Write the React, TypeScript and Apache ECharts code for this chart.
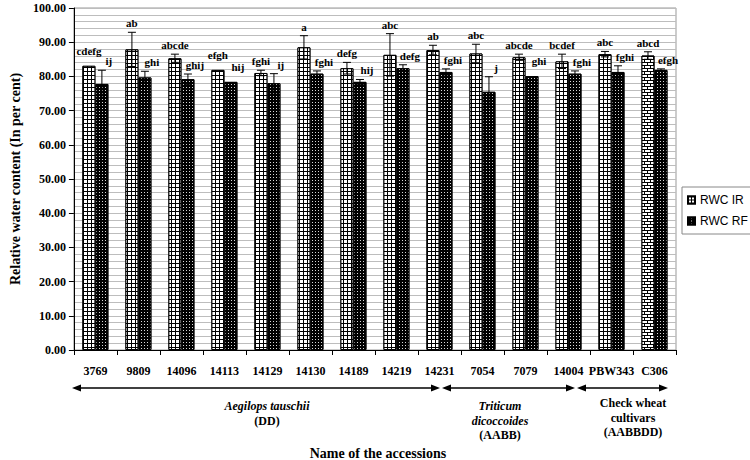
import React, { useEffect, useRef } from "react";
import * as echarts from "echarts";

const categories = ["3769", "9809", "14096", "14113", "14129", "14130", "14189", "14219", "14231", "7054", "7079", "14004", "PBW343", "C306"];
const rwcIR = [83.1, 87.9, 85.3, 81.9, 81.0, 88.5, 82.4, 86.3, 87.7, 86.7, 85.6, 84.4, 86.5, 86.1];
const rwcIRErr = [0.2, 5.0, 1.2, 0.2, 0.8, 3.4, 1.7, 6.2, 1.4, 2.7, 0.9, 2.1, 0.8, 1.1];
const rwcRF = [77.8, 79.7, 79.2, 78.4, 78.0, 80.8, 78.4, 82.4, 81.3, 75.5, 80.1, 80.8, 81.3, 81.9];
const rwcRFErr = [4.0, 1.8, 1.5, 0.2, 2.8, 0.8, 0.7, 1.0, 0.9, 4.4, 0.2, 0.8, 1.8, 0.3];
const lettersIR = ["cdefg", "ab", "abcde", "efgh", "fghi", "a", "defg", "abc", "ab", "abc", "abcde", "bcdef", "abc", "abcd"];
const lettersRF = ["ij", "ghi", "ghij", "hij", "ij", "fghi", "hij", "defg", "fghi", "j", "ghi", "fghi", "fghi", "efgh"];
const yTicks = { min: 0, max: 100, interval: 10 };

const SERIF = "'Liberation Serif', 'Times New Roman', serif";
const BAR_W = 13;

const gridDecal = {
  symbol: "rect",
  symbolSize: 1,
  color: "#ffffff",
  dashArrayX: [3, 1],
  dashArrayY: [3, 1],
  rotation: 0,
};
const dotDecal = {
  symbol: "rect",
  symbolSize: 1,
  color: "#d8d8d8",
  dashArrayX: [1, 2],
  dashArrayY: [1, 2],
  rotation: 0,
};
const brickDecal = {
  symbol: "rect",
  symbolSize: 1,
  color: "#ffffff",
  dashArrayX: [[5, 1], [2, 1, 3, 0]],
  dashArrayY: [2, 1],
  rotation: 0,
};

function errSeries(values: number[], errs: number[], letters: string[], dx: number, labelDx: number) {
  return {
    type: "custom",
    silent: true,
    z: 5,
    data: values.map((v, i) => [i, v, errs[i]]),
    renderItem: (params: any, api: any) => {
      const i = api.value(0);
      const v = api.value(1);
      const e = api.value(2);
      const top = api.coord([i, v + e]);
      const bot = api.coord([i, v - e]);
      const x = top[0] + dx;
      const children: any[] = [];
      if (e > 0.25) {
        children.push(
          { type: "line", shape: { x1: x, y1: top[1], x2: x, y2: bot[1] }, style: { stroke: "#000", lineWidth: 1 } },
          { type: "line", shape: { x1: x - 4, y1: top[1], x2: x + 4, y2: top[1] }, style: { stroke: "#000", lineWidth: 1 } },
          { type: "line", shape: { x1: x - 4, y1: bot[1], x2: x + 4, y2: bot[1] }, style: { stroke: "#000", lineWidth: 1 } }
        );
      }
      const gap = e > 0.25 ? 9 : 14;
      children.push({
        type: "text",
        style: {
          x: x + labelDx,
          y: top[1] - gap,
          text: letters[i],
          align: "center",
          verticalAlign: "middle",
          font: "bold 11px " + SERIF,
          fill: "#000",
        },
      });
      return { type: "group", children };
    },
  };
}

function arrow(x1: number, x2: number, y: number) {
  return [
    { type: "line", shape: { x1: x1 + 6, y1: y, x2: x2 - 6, y2: y }, style: { stroke: "#000", lineWidth: 1.5 } },
    { type: "polygon", shape: { points: [[x1, y], [x1 + 9, y - 3.5], [x1 + 9, y + 3.5]] }, style: { fill: "#000" } },
    { type: "polygon", shape: { points: [[x2, y], [x2 - 9, y - 3.5], [x2 - 9, y + 3.5]] }, style: { fill: "#000" } },
  ];
}

function groupText(x: number, y: number, lines: string[], italicLines: number) {
  return lines.map((t, k) => ({
    type: "text",
    style: {
      x,
      y: y + k * 14.5,
      text: t,
      align: "center",
      verticalAlign: "middle",
      font: (k < italicLines ? "italic " : "") + "bold 12px " + SERIF,
      fill: "#000",
    },
  }));
}

export default function App() {
  const ref = useRef<HTMLDivElement>(null);
  useEffect(() => {
    if (!ref.current) return;
    const chart = echarts.init(ref.current, null, { renderer: "svg" });
    chart.setOption({
      animation: false,
      backgroundColor: "#fff",
      grid: { left: 63, right: 74, top: 8, bottom: 110, show: true, borderColor: "#999", borderWidth: 1 },
      legend: {
        orient: "vertical",
        left: 682,
        top: 187,
        icon: "rect",
        itemWidth: 7,
        itemHeight: 7,
        itemGap: 9,
        padding: [7, 8, 7, 5],
        borderColor: "#888",
        borderWidth: 1,
        textStyle: { fontFamily: "'Liberation Sans', Arial, sans-serif", fontSize: 12, color: "#000" },
        data: ["RWC IR", "RWC RF"],
      },
      xAxis: {
        type: "category",
        data: categories,
        axisLine: { lineStyle: { color: "#000", width: 1 } },
        axisTick: { show: true, length: 5, lineStyle: { color: "#000" } },
        axisLabel: { margin: 15, fontFamily: SERIF, fontWeight: "bold", fontSize: 12, color: "#000", interval: 0 },
        splitLine: { show: false },
      },
      yAxis: {
        type: "value",
        min: yTicks.min,
        max: yTicks.max,
        interval: yTicks.interval,
        name: "Relative water content (In per cent)",
        nameLocation: "middle",
        nameGap: 48,
        nameTextStyle: { fontFamily: SERIF, fontWeight: "bold", fontSize: 14, color: "#000" },
        axisLine: { show: true, lineStyle: { color: "#000" } },
        axisTick: { show: true, length: 5, lineStyle: { color: "#000" } },
        axisLabel: { formatter: (v: number) => v.toFixed(2), margin: 8, fontFamily: SERIF, fontWeight: "bold", fontSize: 12, color: "#000" },
        splitLine: { show: true, lineStyle: { color: "#bdbdbd", width: 1 } },
        minorTick: { show: false, splitNumber: 5 },
        minorSplitLine: { show: true, lineStyle: { color: "#bdbdbd", width: 1 } },
      },
      series: [
        {
          name: "RWC IR",
          type: "bar",
          barWidth: BAR_W,
          barGap: "0%",
          data: rwcIR.map((v, i) => ({
            value: v,
            itemStyle: i === categories.length - 1 ? { decal: brickDecal } : undefined,
          })),
          itemStyle: { color: "#000", borderColor: "#000", borderWidth: 1, decal: gridDecal },
        },
        {
          name: "RWC RF",
          type: "bar",
          barWidth: BAR_W,
          barGap: "0%",
          data: rwcRF,
          itemStyle: { color: "#000", borderColor: "#000", borderWidth: 1, decal: dotDecal },
        },
        errSeries(rwcIR, rwcIRErr, lettersIR, -BAR_W / 2, 0),
        errSeries(rwcRF, rwcRFErr, lettersRF, BAR_W / 2, 7),
      ],
      graphic: [
        ...arrow(72, 440, 388),
        ...arrow(442, 575, 388),
        ...arrow(577, 668, 388),
        ...groupText(267, 406, ["Aegilops tauschii", "(DD)"], 1),
        ...groupText(500, 406, ["Triticum", "dicoccoides", "(AABB)"], 2),
        ...groupText(633, 403, ["Check wheat", "cultivars", "(AABBDD)"], 0),
        {
          type: "text",
          style: {
            x: 378,
            y: 453,
            text: "Name of the accessions",
            align: "center",
            verticalAlign: "middle",
            font: "bold 14px " + SERIF,
            fill: "#000",
          },
        },
      ],
    });
    return () => chart.dispose();
  }, []);
  return <div ref={ref} style={{ width: 750, height: 460, position: "absolute", left: 0, top: 0 }} />;
}
